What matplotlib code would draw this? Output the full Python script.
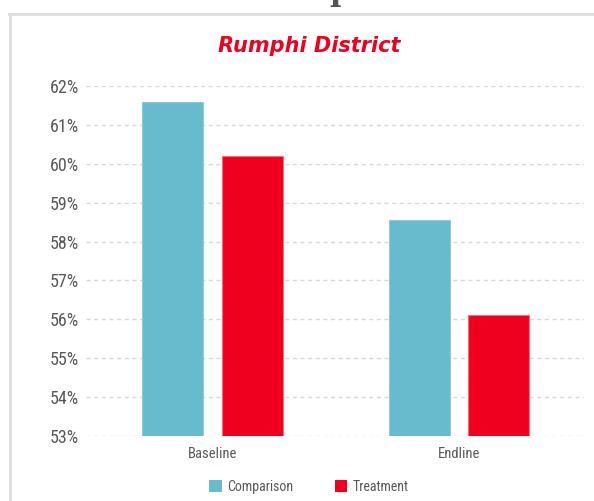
import matplotlib
matplotlib.use("Agg")
import matplotlib.pyplot as plt
from matplotlib.lines import Line2D
from matplotlib.patches import Patch
from matplotlib import font_manager
import numpy as np

# chart values
categories = ["Baseline", "Endline"]
series_names = ["Comparison", "Treatment"]
comparison = [61.58, 58.56]
treatment = [60.21, 56.12]
y_ticks = [53, 54, 55, 56, 57, 58, 59, 60, 61, 62]

blue = "#68bbcc"
red = "#f0001e"
grey_txt = "#595959"

installed = {f.name for f in font_manager.fontManager.ttflist}
narrow_found = [n for n in ["Roboto Condensed", "Liberation Sans Narrow"]
                if n in installed]
if narrow_found:
    narrow = [narrow_found[0], "DejaVu Sans"]
    tick_size, cat_size, leg_size = 13, 10.5, 10
else:
    narrow = ["Liberation Sans", "DejaVu Sans"]
    tick_size, cat_size, leg_size = 11.5, 9, 9.5

fig = plt.figure(figsize=(5.94, 5.01), dpi=100)
ax = fig.add_axes([86 / 594, 1 - 436 / 501, 498 / 594, 350 / 501])

x = np.arange(len(categories))
width = 0.247
off = 0.162
ax.bar(x - off, comparison, width, color=blue, edgecolor="#8fcad8",
       linewidth=0.8, label=series_names[0], zorder=3)
ax.bar(x + off, treatment, width, color=red, edgecolor="#f4707f",
       linewidth=0.8, label=series_names[1], zorder=3)

ax.set_ylim(53, 62)
ax.set_xlim(-0.513, 1.507)
ax.set_yticks(y_ticks)
ax.set_yticklabels([f"{v}%" for v in y_ticks], family=narrow,
                   fontsize=tick_size, color=grey_txt)
ax.set_xticks(x)
ax.set_xticklabels(categories, family=narrow, fontsize=cat_size,
                   color=grey_txt)
ax.tick_params(axis="both", length=0)
ax.tick_params(axis="y", pad=5)
ax.tick_params(axis="x", pad=8)
for s in ax.spines.values():
    s.set_visible(False)
ax.yaxis.grid(True, linestyle=(0, (3, 2.5)), color="#d8d8d8", linewidth=1.0,
              zorder=0)
ax.set_axisbelow(True)

fig.text(309 / 594, 1 - 46 / 501, "Rumphi District", ha="center",
         va="center", fontsize=15, color=red, style="italic",
         weight="semibold", family="DejaVu Sans")

handles = [Patch(facecolor=blue, edgecolor="none"),
           Patch(facecolor=red, edgecolor="none")]
fig.legend(handles, series_names, loc="center",
           bbox_to_anchor=(309 / 594, 1 - 487 / 501), ncol=2, frameon=False,
           handlelength=0.9, handleheight=0.9, handletextpad=0.4,
           columnspacing=3.0, prop={"family": narrow, "size": leg_size},
           labelcolor=grey_txt)

# page frame around the chart
fig.add_artist(Line2D([9.5 / 594, 9.5 / 594], [0, 1 - 14 / 501],
                      color="#dedede", linewidth=2))
fig.add_artist(Line2D([9 / 594, 1], [1 - 14 / 501, 1 - 14 / 501],
                      color="#dedede", linewidth=2))
# descender of heading text cut off above the chart
fig.text(340 / 594, 1 - 0 / 501, "p", ha="center", va="baseline",
         fontsize=22, color="#555555", family="DejaVu Serif",
         weight="bold")

fig.savefig("out.png", dpi=100)
